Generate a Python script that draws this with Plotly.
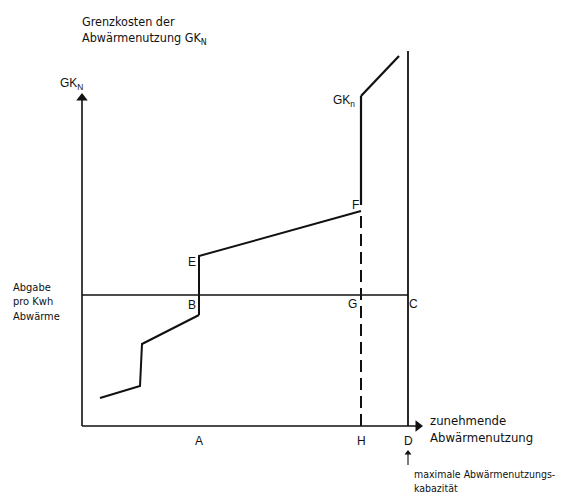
import plotly.graph_objects as go

# ---- data (units: x = Abwärmenutzung, y = Grenzkosten) ----
x_A = 117
x_H = 279
x_D = 326
abgabe_level = 131

lower_x = [18, 58, 60, 117]
lower_y = [28, 40, 82, 111]

mid_x = [117, 117, 279]
mid_y = [111, 170, 215]

upper_x = [279, 279, 317]
upper_y = [215, 330, 370]

d_top = 375
y_axis_top = 333
x_axis_end = 341

point_labels = ["A", "H", "D"]
point_x = [x_A, x_H, x_D]

FONT_HAND = "DejaVu Sans Condensed"
FONT_LAB = "Liberation Sans"
BLACK = "#111111"

fig = go.Figure()

def line(xs, ys, width=2, dash="solid"):
    fig.add_trace(go.Scatter(x=xs, y=ys, mode="lines",
                             line=dict(color=BLACK, width=width, dash=dash),
                             hoverinfo="skip", showlegend=False))

def head(x, y, symbol, size=10):
    fig.add_trace(go.Scatter(x=[x], y=[y], mode="markers",
                             marker=dict(symbol=symbol, size=size, color=BLACK),
                             hoverinfo="skip", showlegend=False))

# axes
line([0, 0], [0, y_axis_top - 5], width=1.6)
line([0, x_axis_end - 5], [0, 0], width=1.6)
head(0, y_axis_top - 5, "triangle-up", 10)
head(x_axis_end - 5, 0, "triangle-right", 10)
# horizontal Abgabe line
line([0, x_D], [abgabe_level, abgabe_level], width=1.6)
# capacity line D
line([x_D, x_D], [0, d_top], width=1.8)
# small arrow pointing at D
line([x_D, x_D], [-39, -27], width=1.1)
head(x_D, -27, "triangle-up", 6)
# curves
line(lower_x, lower_y, width=2)
line(mid_x, mid_y, width=2)
line(upper_x[1:], upper_y[1:], width=2.2)
line([x_H, x_H], [221, upper_y[1]], width=2.2)
line([x_H, x_H], [0, mid_y[2]], width=2, dash="12px,6px")

def txt(x, y, s, size=12, font=FONT_LAB, xanchor="center", align="left"):
    fig.add_annotation(x=x, y=y, xref="x", yref="y", text=s, showarrow=False,
                       xanchor=xanchor, yanchor="middle", align=align,
                       font=dict(family=font, size=size, color=BLACK))

# point labels
for lab, px in zip(point_labels, point_x):
    txt(px, -15, lab, size=12)
txt(110, 121, "B")
txt(110, 164, "E")
txt(273, 221, "F")
txt(270, 122, "G")
txt(331, 122, "C")
txt(275, 325, "GK<sub>n</sub>", xanchor="right")
txt(-11, 342, "GK<sub>N</sub>", size=12)

# hand-written style texts
txt(-2, 396, "Grenzkosten der<br>Abwärmenutzung GK<sub>N</sub>", size=12.5,
    font=FONT_HAND, xanchor="left")
txt(-71, 124, "Abgabe<br>pro Kwh<br>Abwärme", size=11, font=FONT_HAND, xanchor="left")
txt(346, -3, "zunehmende<br>Abwärmenutzung", size=13, font=FONT_HAND, xanchor="left")
txt(330, -55, "maximale Abwärmenutzungs-<br>kabazität", size=10.5,
    font=FONT_HAND, xanchor="left")

# page has an 8px body margin: figure pixel = page pixel - 8
fig.update_layout(
    width=580, height=497,
    margin=dict(l=0, r=0, t=0, b=0),
    paper_bgcolor="white", plot_bgcolor="white",
    xaxis=dict(range=[-74, 506], visible=False, fixedrange=True),
    yaxis=dict(range=[-79, 418], visible=False, fixedrange=True),
    showlegend=False,
)
fig.write_html("out.html")
